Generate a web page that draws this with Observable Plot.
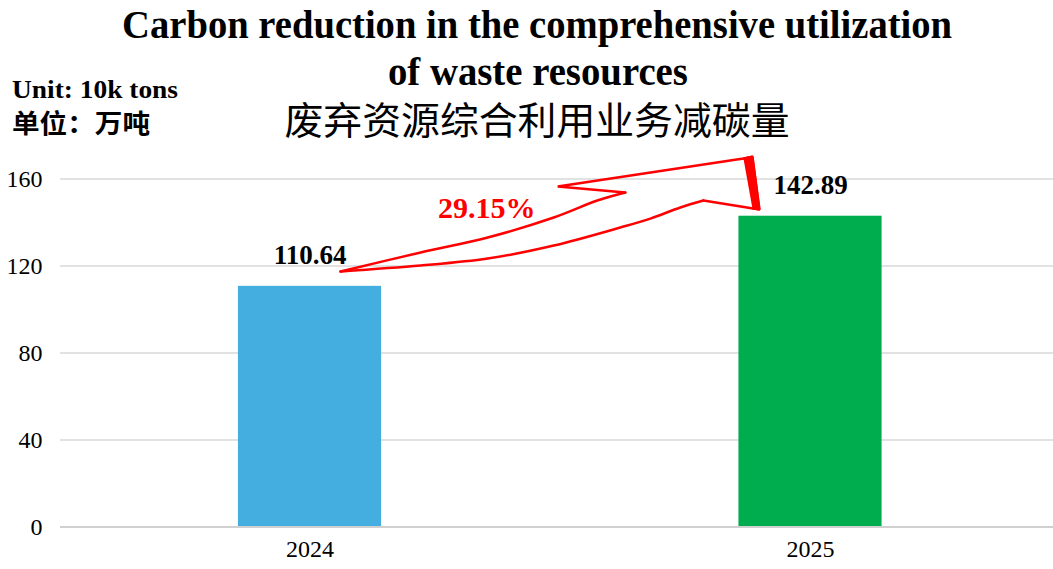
<!DOCTYPE html>
<html>
<head>
<meta charset="utf-8">
<script src="https://cdn.jsdelivr.net/npm/d3@7"></script>
<script src="https://cdn.jsdelivr.net/npm/@observablehq/plot@0.6"></script>
<style>
  html, body { margin: 0; padding: 0; background: #fff; }
  #wrap { width: 1053px; height: 569px; position: relative; overflow: hidden; }
  #head { position: relative; width: 1053px; height: 150px; }
  .t { position: absolute; left: 11px; width: 1053px; text-align: center; white-space: nowrap; }
  .t span { display: inline-block; transform-origin: center center; }
  .en { font-family: "Liberation Serif", "Times New Roman", serif; font-weight: bold; color: #000; }
  .u { position: absolute; left: 12px; white-space: nowrap; color: #000; }
  .u span { display: inline-block; transform-origin: left center; }
</style>
</head>
<body>
<div id="wrap">
  <div id="head">
    <div class="t en" style="top:2px;font-size:39px;line-height:46px"><span id="t1">Carbon reduction in the comprehensive utilization</span></div>
    <div class="t en" style="top:49px;font-size:39px;line-height:46px"><span id="t2">of waste resources</span></div>
    <div class="t" style="top:95px;font-family:'Noto Sans CJK SC',sans-serif;font-size:38px;line-height:46px;color:#000"><span id="t3">废弃资源综合利用业务减碳量</span></div>
    <div class="u en" style="top:75px;font-size:26px;line-height:30px"><span id="u1">Unit: 10k tons</span></div>
    <div class="u" style="top:106px;font-family:'Noto Sans CJK SC',sans-serif;font-weight:bold;font-size:26px;line-height:32px"><span id="u2">单位：万吨</span></div>
  </div>
  <div id="chart"></div>
</div>
<script>
// Data
const years = [2024, 2025];
const values = [110.64, 142.89];
const colors = ["#45AEE0", "#00AD4E"];
const yTicks = [0, 40, 80, 120, 160];
const growthLabel = "29.15%";

// Decorative bent arrow (data units: year, value)
const upperX = [2024.061, 2024.221, 2024.355, 2024.487, 2024.574, 2024.630];
const upperY = [117.5, 126.2, 133.1, 142.3, 150.1, 153.8];
const cornerX = [2024.630, 2024.495, 2024.866, 2024.884, 2024.898, 2024.786];
const cornerY = [153.8, 156.6, 169.4, 170.3, 146.0, 150.1];
const lowerX = [2024.786, 2024.740, 2024.680, 2024.620, 2024.487, 2024.355, 2024.221, 2024.061];
const lowerY = [150.1, 146.9, 141.8, 137.7, 129.4, 123.4, 120.2, 117.5];
const headX = [2024.866, 2024.884, 2024.898, 2024.884];
const headY = [169.4, 170.3, 146.0, 146.4];
const growthPos = {x: 2024.353, y: 146.4};

const bars = years.map((y, i) => ({year: y, value: values[i], color: colors[i]}));
const pts = (xs, ys) => xs.map((x, i) => ({x, y: ys[i]}));
const halfWidth = 0.143;
const red = "#ff0000";

const chart = Plot.plot({
  width: 1053,
  height: 419,
  marginLeft: 60,
  marginRight: 0,
  marginTop: 28.5,
  marginBottom: 42.5,
  style: {fontFamily: "'Liberation Serif', 'Times New Roman', serif", color: "#000", background: "#fff"},
  x: {domain: [2023.5015, 2025.4855], label: null},
  y: {domain: [0, 160], label: null},
  marks: [
    Plot.ruleY(yTicks.filter(d => d > 0), {stroke: "#d9d9d9", strokeWidth: 1.5}),
    Plot.axisY({ticks: yTicks, tickSize: 0, tickPadding: 18, fontSize: 24, label: null}),
    Plot.axisX({ticks: years, tickFormat: "d", tickSize: 0, tickPadding: 13, fontSize: 24, label: null}),
    Plot.rectY(bars, {x1: d => d.year - halfWidth, x2: d => d.year + halfWidth, y: "value", fill: "color"}),
    Plot.ruleY([0], {stroke: "#d0d0d0", strokeWidth: 2}),
    Plot.text(bars, {x: "year", y: "value", text: d => d.value.toFixed(2), dy: -22, lineAnchor: "bottom", fontWeight: "bold", fontSize: 27, fill: "#000"}),
    Plot.line(pts(upperX, upperY), {x: "x", y: "y", stroke: red, strokeWidth: 2.5, curve: "catmull-rom", strokeLinecap: "round"}),
    Plot.line(pts(cornerX, cornerY), {x: "x", y: "y", stroke: red, strokeWidth: 2.5, curve: "linear", strokeLinejoin: "miter", strokeLinecap: "round"}),
    Plot.line(pts(lowerX, lowerY), {x: "x", y: "y", stroke: red, strokeWidth: 2.5, curve: "catmull-rom", strokeLinecap: "round"}),
    Plot.line(pts(headX, headY), {x: "x", y: "y", fill: red, stroke: red, strokeWidth: 2}),
    Plot.text([growthLabel], {x: [growthPos.x], y: [growthPos.y], text: d => d, fontWeight: "bold", fontSize: 30, fill: red})
  ]
});
document.getElementById("chart").appendChild(chart);

// Fit text widths to the reference layout (condensed serif)
function fit(id, w) {
  const el = document.getElementById(id);
  const cw = el.getBoundingClientRect().width;
  if (cw > 0) el.style.transform = `scaleX(${w / cw})`;
}
fit("t1", 830);
fit("t2", 300);
fit("t3", 505);
fit("u1", 166);
fit("u2", 138);
</script>
</body>
</html>
